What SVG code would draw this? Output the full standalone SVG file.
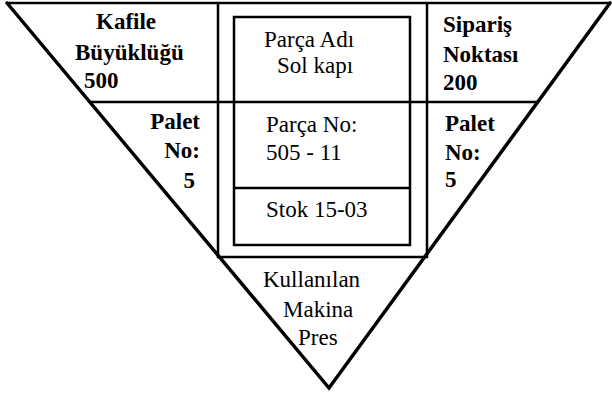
<svg xmlns="http://www.w3.org/2000/svg" width="612" height="396" viewBox="0 0 612 396" font-family="Liberation Serif, Tinos, Times New Roman, Times, Nimbus Roman, DejaVu Serif, Noto Serif, serif">
<style>
.edge{fill:none;stroke:#000;stroke-width:3.5;stroke-linejoin:miter;stroke-linecap:round}
.top{fill:none;stroke:#000;stroke-width:2.5}
.ln{fill:none;stroke:#000;stroke-width:2.5}
.t{font-size:23px;fill:#000}
.b{font-weight:bold}
</style>
<rect width="612" height="396" fill="#fff"/>
<g id="connectors">
<line class="top" x1="6" y1="3" x2="611" y2="3"/>
<polyline class="edge" points="7,3 329,388 610,3"/>
<line class="ln" x1="90" y1="102" x2="538" y2="102"/>
<polyline class="ln" points="218,3 218,257 427,257 427,3"/>
<rect class="ln" x="234" y="17" width="176" height="228"/>
<line class="ln" x1="234" y1="188" x2="410" y2="188"/>
</g>
<g id="kafile" class="t b">
<text x="96" y="29">Kafile</text>
<text x="75" y="60">Büyüklüğü</text>
<text x="84" y="88">500</text>
</g>
<g id="parca-adi" class="t">
<text x="264" y="47">Parça Adı</text>
<text x="277" y="73">Sol kapı</text>
</g>
<g id="siparis" class="t b">
<text x="443" y="32">Sipariş</text>
<text x="443" y="62">Noktası</text>
<text x="443" y="90">200</text>
</g>
<g id="palet-left" class="t b" text-anchor="end">
<text x="200" y="129">Palet</text>
<text x="200" y="158">No:</text>
<text x="195" y="188">5</text>
</g>
<g id="parca-no" class="t">
<text x="266" y="132">Parça No:</text>
<text x="266" y="160">505 - 11</text>
</g>
<g id="stok" class="t">
<text x="266" y="217">Stok 15-03</text>
</g>
<g id="palet-right" class="t b">
<text x="445" y="131">Palet</text>
<text x="445" y="160">No:</text>
<text x="445" y="187">5</text>
</g>
<g id="makina" class="t">
<text x="263" y="287">Kullanılan</text>
<text x="283" y="317">Makina</text>
<text x="298" y="345">Pres</text>
</g>
</svg>
